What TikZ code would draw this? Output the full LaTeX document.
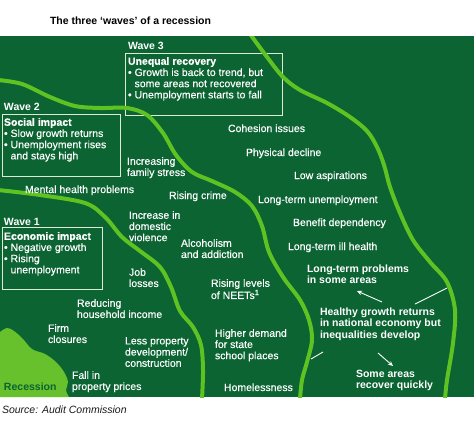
\documentclass[tikz,border=0pt]{standalone}
\usepackage{fontspec}
\setmainfont{Liberation Sans}
\newfontfamily\medfont{Liberation Sans}[FakeBold=0.35]
\usetikzlibrary{arrows.meta}
\definecolor{dkgreen}{HTML}{0B6432}
\definecolor{lime}{HTML}{5EC322}
\definecolor{blob}{HTML}{66C12C}
\definecolor{boxline}{HTML}{DDEBD6}
\begin{document}
\begin{tikzpicture}[x=1pt,y=-1pt,
  txt/.style={anchor=north west, inner sep=0pt, outer sep=0pt, text=white, align=left,
    font=\fontsize{10.5}{11.2}\medfont, yshift=7.84pt, execute at begin node=\strut},
  hd/.style={txt, font=\fontsize{10.5}{11.2}\selectfont\bfseries},
  wave/.style={draw=lime, line width=4pt, line cap=round},
  wbox/.style={draw=boxline, line width=0.9pt},
  conn/.style={draw=white, line width=0.9pt},
  arr/.style={conn, -{Stealth[length=5pt,width=4.5pt]}},
  ]
\useasboundingbox (0,0) rectangle (476,434);
\fill[white] (0,0) rectangle (476,434);
% background field
\fill[dkgreen] (0,36) rectangle (474,397);
% recession blob
\fill[blob] (0,397) -- plot[smooth, tension=0.6] coordinates
  {(0,332) (7,328) (14,331) (23,339) (32,349) (45,354) (56,362) (64,372) (68,382) (66,390) (69,397)} -- cycle;
% wave boxes
\draw[wbox] (125,53) rectangle (282,115);
\draw[wbox] (2,114) rectangle (120,176);
\draw[wbox] (2,227) rectangle (102,289);
% wave boundaries
\begin{scope}
\clip (0,36) rectangle (474,397);
\draw[wave] plot[smooth, tension=0.55] coordinates
  {(-2,190) (40,195) (85,203) (105,217) (122,237) (140,251) (160,267) (171,287) (180,311) (193,327) (201,345) (203,370) (202,399)};
\draw[wave] plot[smooth, tension=0.55] coordinates
  {(-2,80) (22,84) (50,97) (75,106) (100,108) (127,108) (147,115) (163,133) (176,155) (192,172) (212,181) (235,192) (252,206) (262,226) (269,252) (283,277) (300,300) (309,320) (312,340) (307,362) (302,380) (300,399)};
\draw[wave] plot[smooth, tension=0.55] coordinates
  {(250,34) (267,57) (283,77) (300,90) (327,103) (350,117) (367,131) (377,147) (384,165) (390,187) (400,213) (413,240) (430,262) (447,282) (455,310) (453,343) (447,380) (445,399)};
\end{scope}
% title and source
\node[hd, text=black] (title) at (50,24) {The three ‘waves’ of a recession};
\node[txt, text=black!90, font=\fontsize{10.5}{11.2}\selectfont\itshape] (source) at (2,413) {Source: Audit Commission};
% wave headings
\node[hd] (w3) at (128,49) {Wave 3};
\node[txt] (w3t) at (128,65) {\textbf{Unequal recovery}\\• Growth is back to trend, but\\\phantom{• }some areas not recovered\\• Unemployment starts to fall};
\node[hd] (w2) at (4,110) {Wave 2};
\node[txt] (w2t) at (4,126) {\textbf{Social impact}\\• Slow growth returns\\• Unemployment rises\\\phantom{• }and stays high};
\node[hd] (w1) at (4,225) {Wave 1};
\node[txt] (w1t) at (4,240) {\textbf{Economic impact}\\• Negative growth\\• Rising\\\phantom{• }unemployment};
\node[hd, text=dkgreen] (rec) at (4,390) {Recession};
% wave 1 items
\node[txt] (firm) at (48,332) {Firm\\closures};
\node[txt] (fall) at (72,379) {Fall in\\property prices};
\node[txt] (reduce) at (77,307) {Reducing\\household income};
\node[txt] (job) at (129,276) {Job\\losses};
\node[txt] (less) at (125,345) {Less property\\development/\\construction};
% wave 2 items
\node[txt] (mental) at (25,193) {Mental health problems};
\node[txt] (family) at (127,165) {Increasing\\family stress};
\node[txt] (crime) at (169,199) {Rising crime};
\node[txt] (dom) at (129,219) {Increase in\\domestic\\violence};
\node[txt] (alc) at (181,247) {Alcoholism\\and addiction};
\node[txt] (neet) at (211,287) {Rising levels\\of NEETs\textsuperscript{1}};
\node[txt] (school) at (215,337) {Higher demand\\for state\\school places};
\node[txt] (home) at (224,391) {Homelessness};
% wave 3 items
\node[txt] (cohesion) at (228,132) {Cohesion issues};
\node[txt] (phys) at (246,156) {Physical decline};
\node[txt] (low) at (294,179) {Low aspirations};
\node[txt] (ltu) at (258,203) {Long-term unemployment};
\node[txt] (ben) at (293,226) {Benefit dependency};
\node[txt] (ill) at (288,250) {Long-term ill health};
\node[hd] (ltp) at (307,273) {Long-term problems\\in some areas};
\node[hd] (healthy) at (320,316) {Healthy growth returns\\in national economy but\\inequalities develop};
\node[hd] (some) at (356,378) {Some areas\\recover quickly};
% connectors
\coordinate (r1) at (415,304);
\coordinate (r2) at (447,288);
\coordinate (l1) at (323,352);
\coordinate (l2) at (311,359);
\coordinate (a1) at (382,302);
\coordinate (a2) at (357,291);
\coordinate (b1) at (378,353);
\coordinate (b2) at (393,366);
\draw[conn] (r1) -- (r2);
\draw[conn] (l1) -- (l2);
\draw[arr] (a1) -- (a2);
\draw[arr] (b1) -- (b2);
\end{tikzpicture}
\end{document}
